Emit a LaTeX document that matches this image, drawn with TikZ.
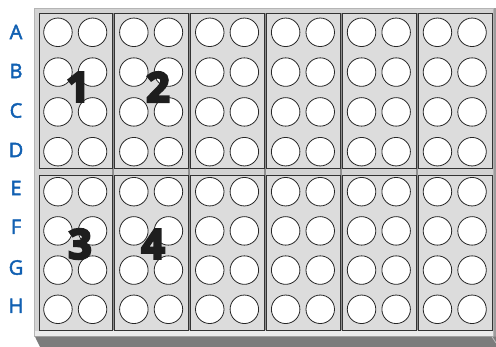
\documentclass[tikz,border=0pt]{standalone}
\usepackage{fontspec}
\setmainfont{Open Sans}
\newfontfamily\numfont{Open Sans}
\newfontfamily\labfont{Open Sans}
\newcommand\heavytext[1]{\special{pdf:literal direct 2 Tr 2.4 w}#1\special{pdf:literal direct 0 Tr}}
\newcommand\semitext[1]{\special{pdf:literal direct 2 Tr 0.45 w}#1\special{pdf:literal direct 0 Tr}}
\definecolor{platefill}{HTML}{D3D3D3}
\definecolor{stripfill}{HTML}{DCDCDC}
\definecolor{plateedge}{HTML}{B4B4B4}
\definecolor{darkband}{HTML}{7C7C7C}
\definecolor{sideband}{HTML}{9C9C9C}
\definecolor{gapgray}{HTML}{8E8E8E}
\definecolor{rowblue}{HTML}{1160B2}
\definecolor{numblack}{HTML}{1E1E1E}
\tikzset{
  stripbox/.style={draw=black!80, line width=0.8pt, fill=stripfill},
  well/.style={circle, draw=black!85, line width=0.8pt, fill=white, minimum size=28.5pt, inner sep=0pt},
  rowlabel/.style={text=rowblue, font=\labfont\fontsize{20}{20}\selectfont, inner sep=0pt},
  stripnum/.style={text=numblack, font=\numfont\fontsize{41}{41}\selectfont\bfseries, inner sep=0pt}
}
\begin{document}
\begin{tikzpicture}[x=1pt,y=-1pt]
\useasboundingbox (0,0) rectangle (496,347);
% plate body
\fill[sideband] (490,8) rectangle (496,337);
\fill[platefill, draw=plateedge, line width=1pt] (34.5,8.5) rectangle (493,336.5);
\fill[white!92!black] (35,331) rectangle (493,336.5);
\fill[darkband] (35,336.7) -- (40,347) -- (496,347) -- (496,336.7) -- cycle;
\draw[white!75!black, line width=0.8pt] (492,336.7) -- (496,343);
% strips
\foreach \i in {0,...,5}{
  \pgfmathsetmacro{\L}{38.5+75.9*\i}
  \pgfmathsetmacro{\R}{\L+73.5}
  \ifnum\i<5
    \fill[gapgray] (\R,12.7) rectangle (\R+2.4,330.5);
  \fi
  \node[stripbox, minimum width=73.5pt, minimum height=155.3pt, anchor=north west] (st\i) at (\L,12.7) {};
  \node[stripbox, minimum width=73.5pt, minimum height=155.5pt, anchor=north west] (sb\i) at (\L,175) {};
}
% wells
\foreach \i in {0,...,5}{
  \pgfmathsetmacro{\C}{38.5+75.9*\i+36.75}
  \foreach \y [count=\r] in {32.3,72.1,111.9,151.7,191.7,230.9,270.1,309.3}{
    \node[well] (w\i-\r-a) at (\C-17.3,\y) {};
    \node[well] (w\i-\r-b) at (\C+17.3,\y) {};
  }
}
% row labels
\foreach \lab/\y in {A/32,B/71,C/110.5,D/150,E/188,F/226.7,G/267.5,H/305.7}{
  \node[rowlabel] (lab\lab) at (16,\y) {\semitext{\lab}};
}
% strip numbers
\node[stripnum] (n1) at (78,87) {\heavytext{1}};
\node[stripnum] (n2) at (158,87) {\heavytext{2}};
\node[stripnum] (n3) at (80,244) {\heavytext{3}};
\node[stripnum] (n4) at (153,244) {\heavytext{4}};
\end{tikzpicture}
\end{document}
